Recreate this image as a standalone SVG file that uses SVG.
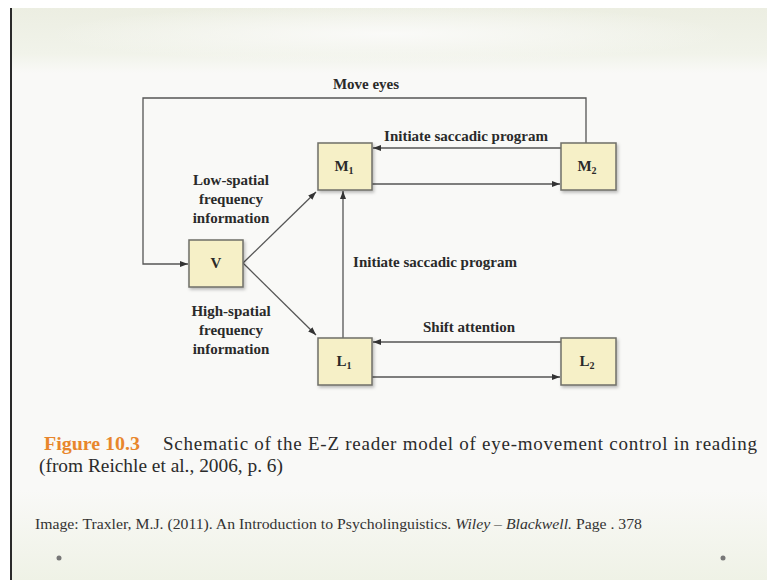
<svg xmlns="http://www.w3.org/2000/svg" width="767" height="580" viewBox="0 0 767 580">
<defs>
<style>
.box{fill:#f6f0c7;stroke:#6f6f68;stroke-width:1.5}
.lbl{font-family:"Liberation Serif",serif;font-weight:bold;font-size:15px;fill:#2a2a2a}
.nlbl{font-family:"Liberation Serif",serif;font-weight:bold;font-size:15px;fill:#2a2a2a}
.edge{fill:none;stroke:#555;stroke-width:1.3}
.cap{font-family:"Liberation Serif",serif;font-size:19px;fill:#2b2b2b}
.fig{font-family:"Liberation Serif",serif;font-size:19px;font-weight:bold;fill:#e8862c}
.cite{font-family:"Liberation Serif",serif;font-size:15px;fill:#333}
</style>
<marker id="ah" markerUnits="userSpaceOnUse" markerWidth="9" markerHeight="7" refX="8" refY="3" orient="auto">
<path d="M0,0 L8,3 L0,6 z" fill="#333"/>
</marker>
<filter id="sh" x="-20%" y="-20%" width="150%" height="150%">
<feDropShadow dx="1.5" dy="2" stdDeviation="1.5" flood-color="#000" flood-opacity="0.25"/>
</filter>
<linearGradient id="topg" x1="0" y1="0" x2="0" y2="1">
<stop offset="0" stop-color="#eceee2"/>
<stop offset="0.7" stop-color="#f1f3ea"/>
<stop offset="1" stop-color="#f9f9f7"/>
</linearGradient>
<radialGradient id="topc" cx="0.5" cy="0.4" r="0.45">
<stop offset="0" stop-color="#fafaf8" stop-opacity="1"/>
<stop offset="1" stop-color="#fafaf8" stop-opacity="0"/>
</radialGradient>
<linearGradient id="botg" x1="0" y1="0" x2="0" y2="1">
<stop offset="0" stop-color="#f9f9f7"/>
<stop offset="1" stop-color="#eff2e6"/>
</linearGradient>
</defs>
<rect x="0" y="0" width="767" height="580" fill="#ffffff"/>
<rect x="10" y="8" width="757" height="572" fill="#f9f9f7"/>
<rect x="10" y="8" width="757" height="65" fill="url(#topg)"/>
<rect x="10" y="8" width="757" height="65" fill="url(#topc)"/>
<rect x="10" y="490" width="757" height="90" fill="url(#botg)"/>
<rect x="10" y="8" width="2" height="572" fill="#2a2a2a"/>

<g id="connectors">
<polyline class="edge" points="586,143 586,98 143,98 143,264 188,264" marker-end="url(#ah)"/>
<line class="edge" x1="561" y1="148" x2="373" y2="148" marker-end="url(#ah)"/>
<line class="edge" x1="372" y1="184" x2="560" y2="184" marker-end="url(#ah)"/>
<line class="edge" x1="561" y1="342" x2="373" y2="342" marker-end="url(#ah)"/>
<line class="edge" x1="372" y1="377" x2="560" y2="377" marker-end="url(#ah)"/>
<line class="edge" x1="343" y1="338" x2="343" y2="191" marker-end="url(#ah)"/>
<line class="edge" x1="243" y1="263" x2="316" y2="192" marker-end="url(#ah)"/>
<line class="edge" x1="243" y1="263" x2="316" y2="335" marker-end="url(#ah)"/>
<text class="lbl" x="366" y="89" text-anchor="middle">Move eyes</text>
<text class="lbl" x="466" y="141" text-anchor="middle">Initiate saccadic program</text>
<text class="lbl" x="435" y="267" text-anchor="middle">Initiate saccadic program</text>
<text class="lbl" x="469" y="332" text-anchor="middle">Shift attention</text>
<text class="lbl" x="231" y="185" text-anchor="middle">Low-spatial</text>
<text class="lbl" x="231" y="204" text-anchor="middle">frequency</text>
<text class="lbl" x="231" y="223" text-anchor="middle">information</text>
<text class="lbl" x="231" y="316" text-anchor="middle">High-spatial</text>
<text class="lbl" x="231" y="335" text-anchor="middle">frequency</text>
<text class="lbl" x="231" y="354" text-anchor="middle">information</text>
</g>

<g id="V">
<rect class="box" x="189" y="240" width="54" height="47" filter="url(#sh)"/>
<text class="nlbl" x="216" y="268" text-anchor="middle">V</text>
</g>
<g id="M1">
<rect class="box" x="318" y="143" width="54" height="47" filter="url(#sh)"/>
<text class="nlbl" x="344" y="171" text-anchor="middle">M<tspan font-size="10" dy="3">1</tspan></text>
</g>
<g id="M2">
<rect class="box" x="561" y="143" width="55" height="47" filter="url(#sh)"/>
<text class="nlbl" x="587" y="171" text-anchor="middle">M<tspan font-size="10" dy="3">2</tspan></text>
</g>
<g id="L1">
<rect class="box" x="318" y="338" width="54" height="47" filter="url(#sh)"/>
<text class="nlbl" x="344" y="366" text-anchor="middle">L<tspan font-size="10" dy="3">1</tspan></text>
</g>
<g id="L2">
<rect class="box" x="561" y="338" width="55" height="47" filter="url(#sh)"/>
<text class="nlbl" x="587" y="366" text-anchor="middle">L<tspan font-size="10" dy="3">2</tspan></text>
</g>

<text class="fig" x="44" y="450" textLength="96" lengthAdjust="spacingAndGlyphs">Figure 10.3</text>
<text class="cap" x="163" y="450" textLength="594" lengthAdjust="spacing">Schematic of the E-Z reader model of eye-movement control in reading</text>
<text class="cap" x="39" y="472" textLength="244" lengthAdjust="spacingAndGlyphs">(from Reichle et al., 2006, p. 6)</text>
<text class="cite" x="35" y="529" textLength="607" lengthAdjust="spacingAndGlyphs">Image: Traxler, M.J. (2011). An Introduction to Psycholinguistics. <tspan font-style="italic">Wiley – Blackwell.</tspan> Page . 378</text>
<circle cx="59" cy="558" r="2.5" fill="#777"/>
<circle cx="723" cy="558" r="2.5" fill="#777"/>
</svg>
